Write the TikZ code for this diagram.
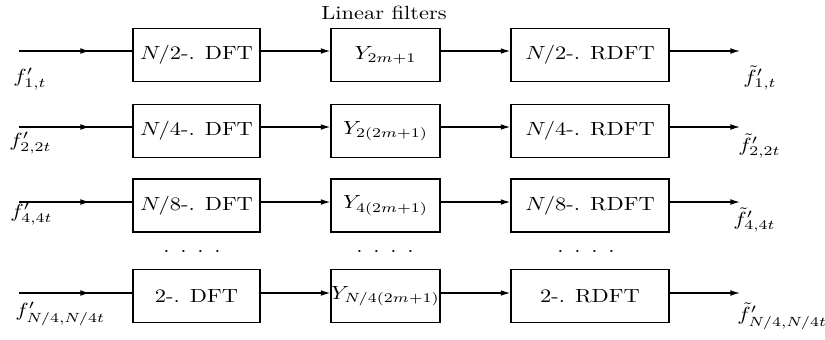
\documentclass[tikz,border=0pt]{standalone}
\usepackage{amsmath}
\usepackage{graphicx}
\usetikzlibrary{calc}
\usetikzlibrary{arrows.meta}

\newcommand{\wtxt}[1]{\scalebox{1.18}[1]{#1}}

\tikzset{
    blk/.style={draw, line width=0.7pt, minimum height=27.8pt, inner sep=0pt},
    dftbox/.style={blk, minimum width=66.7pt},
    fltbox/.style={blk, minimum width=57.2pt},
    rdftbox/.style={blk, minimum width=83pt},
    sig/.style={line width=0.65pt},
    tip/.style={-{Latex[length=5pt, width=3pt]}},
    lbl/.style={anchor=north west, inner sep=0pt},
    dots/.style={inner sep=0pt}
}

\begin{document}
\begin{tikzpicture}[x=0.525pt, y=-0.525pt]
    \useasboundingbox (0, 0) rectangle (825, 339);

    \node (title) at (384, 13) {\wtxt{Linear filters}};

    % first band
    \coordinate (in1) at (19, 51);
    \coordinate (mid1) at (90, 51);
    \coordinate (out1) at (740, 51);
    \node[dftbox] (dft1) at (196.5, 55) {\wtxt{$N/2$-. DFT}};
    \node[fltbox] (flt1) at (385.5, 55) {\wtxt{$Y_{2m+1}$}};
    \node[rdftbox] (rdft1) at (590, 55) {\wtxt{$N/2$-. RDFT}};
    \draw[sig] (in1) -- (in1 -| dft1.west);
    \draw[sig, tip] (in1) -- (mid1);
    \draw[sig, tip] (dft1.east |- in1) -- (flt1.west |- in1);
    \draw[sig, tip] (flt1.east |- in1) -- (rdft1.west |- in1);
    \draw[sig, tip] (rdft1.east |- in1) -- (out1);
    \node[lbl] (x1) at (13, 68) {\wtxt{$f'_{1,t}$}};
    \node[lbl] (y1) at (743, 65) {\wtxt{$\tilde{f}'_{1,t}$}};

    % second band
    \coordinate (in2) at (19, 127);
    \coordinate (mid2) at (90, 127);
    \coordinate (out2) at (740, 127);
    \node[dftbox] (dft2) at (196.5, 131) {\wtxt{$N/4$-. DFT}};
    \node[fltbox] (flt2) at (385.5, 131) {\wtxt{$Y_{2(2m+1)}$}};
    \node[rdftbox] (rdft2) at (590, 131) {\wtxt{$N/4$-. RDFT}};
    \draw[sig] (in2) -- (in2 -| dft2.west);
    \draw[sig, tip] (in2) -- (mid2);
    \draw[sig, tip] (dft2.east |- in2) -- (flt2.west |- in2);
    \draw[sig, tip] (flt2.east |- in2) -- (rdft2.west |- in2);
    \draw[sig, tip] (rdft2.east |- in2) -- (out2);
    \node[lbl] (x2) at (9, 132) {\wtxt{$f'_{2,2t}$}};
    \node[lbl] (y2) at (738, 133) {\wtxt{$\tilde{f}'_{2,2t}$}};

    % third band
    \coordinate (in3) at (19, 202);
    \coordinate (mid3) at (90, 202);
    \coordinate (out3) at (740, 202);
    \node[dftbox] (dft3) at (196.5, 205.5) {\wtxt{$N/8$-. DFT}};
    \node[fltbox] (flt3) at (385.5, 205.5) {\wtxt{$Y_{4(2m+1)}$}};
    \node[rdftbox] (rdft3) at (590, 205.5) {\wtxt{$N/8$-. RDFT}};
    \draw[sig] (in3) -- (in3 -| dft3.west);
    \draw[sig, tip] (in3) -- (mid3);
    \draw[sig, tip] (dft3.east |- in3) -- (flt3.west |- in3);
    \draw[sig, tip] (flt3.east |- in3) -- (rdft3.west |- in3);
    \draw[sig, tip] (rdft3.east |- in3) -- (out3);
    \node[lbl] (x3) at (10, 203) {\wtxt{$f'_{4,4t}$}};
    \node[lbl] (y3) at (733, 207) {\wtxt{$\tilde{f}'_{4,4t}$}};

    % dots
    \node[dots] (d1) at (192, 251) {\wtxt{.\hspace{4.8pt}.\hspace{4.8pt}.\hspace{4.8pt}.}};
    \node[dots] (d2) at (385, 251) {\wtxt{.\hspace{4.8pt}.\hspace{4.8pt}.\hspace{4.8pt}.}};
    \node[dots] (d3) at (586, 251) {\wtxt{.\hspace{4.8pt}.\hspace{4.8pt}.\hspace{4.8pt}.}};

    % last band
    \coordinate (in4) at (19, 293);
    \coordinate (mid4) at (90, 293);
    \coordinate (out4) at (740, 293);
    \node[dftbox] (dft4) at (196.5, 296) {\wtxt{2-. DFT}};
    \node[fltbox] (flt4) at (385.5, 296) {\wtxt{$Y_{N/4(2m+1)}$}};
    \node[rdftbox] (rdft4) at (590, 296) {\wtxt{2-. RDFT}};
    \draw[sig] (in4) -- (in4 -| dft4.west);
    \draw[sig, tip] (in4) -- (mid4);
    \draw[sig, tip] (dft4.east |- in4) -- (flt4.west |- in4);
    \draw[sig, tip] (flt4.east |- in4) -- (rdft4.west |- in4);
    \draw[sig, tip] (rdft4.east |- in4) -- (out4);
    \node[lbl] (x4) at (15, 302) {\wtxt{$f'_{N/4,N/4t}$}};
    \node[lbl] (y4) at (737, 302) {\wtxt{$\tilde{f}'_{N/4,N/4t}$}};
\end{tikzpicture}
\end{document}
